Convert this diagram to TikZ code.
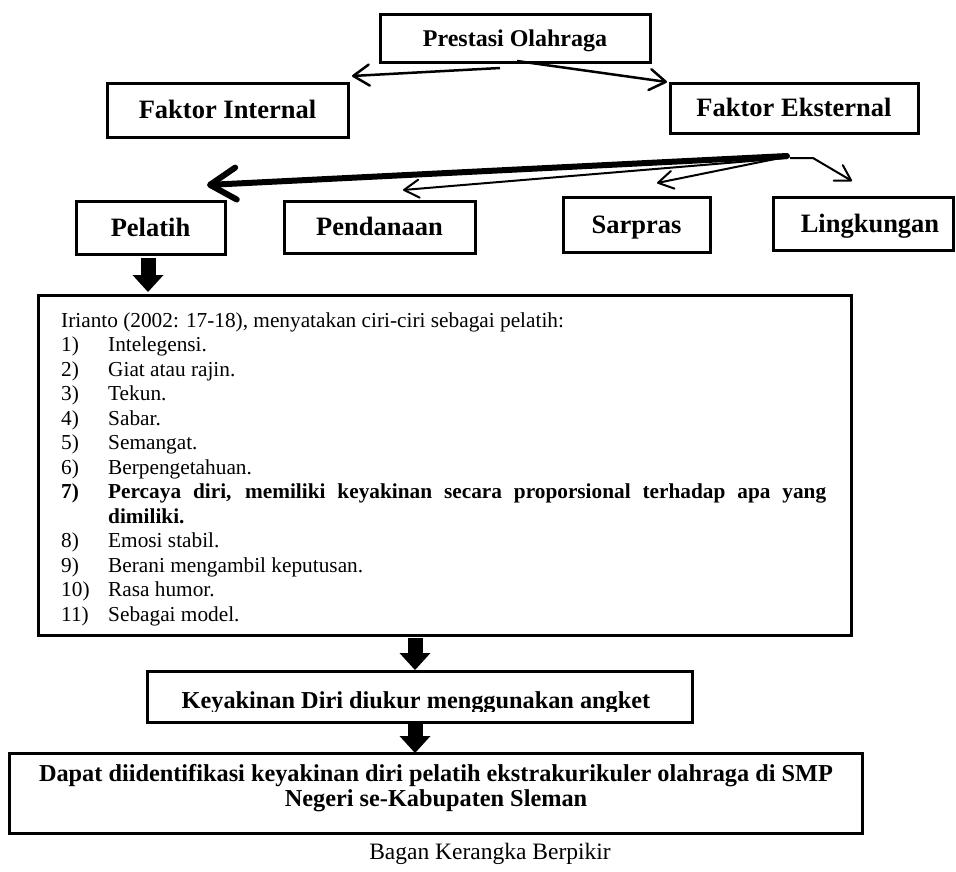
\documentclass[tikz,border=0pt]{standalone}
\usepackage{fontspec}
\setmainfont{Liberation Serif}
\usetikzlibrary{arrows.meta,calc}
\begin{document}
\begin{tikzpicture}[x=1pt,y=-1pt,
  boxnode/.style={draw, line width=3pt, inner sep=0pt, outer sep=0pt, text height=17.5pt, text depth=0pt,
    font=\fontsize{26.5pt}{30pt}\selectfont\bfseries},
  bigbox/.style={draw, line width=3pt, inner sep=0pt, outer sep=0pt},
  lbl/.style={inner sep=0pt, anchor=base west, font=\fontsize{21.3pt}{24.5pt}\selectfont},
  lblb/.style={lbl, font=\fontsize{21.3pt}{24.5pt}\selectfont\bfseries},
  ctext/.style={anchor=base, inner sep=0pt, font=\fontsize{24.3pt}{28pt}\selectfont\bfseries},
  thinarr/.style={line width=2pt, -{Straight Barb[length=15pt,width=18pt,round]}},
  midarr/.style={line width=2.5pt, -{Straight Barb[length=16pt,width=21pt,round]}},
  thickarr/.style={line width=6pt, line cap=round, -{Straight Barb[length=26pt,width=32pt,round]}},
  blockarr/.style={line width=15pt, -{Triangle[length=17pt,width=31pt,line width=0pt]}},
]
\fill[white] (0,0) rectangle (956,871);
\useasboundingbox (0,0) rectangle (956,871);

% top boxes
\node[boxnode, minimum width=270pt, minimum height=48pt, text height=16pt,
      font=\fontsize{24pt}{28pt}\selectfont\bfseries] (prest) at (515,38) {Prestasi Olahraga};
\node[boxnode, minimum width=241pt, minimum height=54pt] (int) at (227.5,110) {Faktor Internal};
\node[boxnode, minimum width=248pt, minimum height=50pt] (eks) at (794,108) {Faktor Eksternal};

% second row
\node[boxnode, minimum width=149pt, minimum height=53pt] (pel) at (150.5,227.5) {Pelatih};
\node[boxnode, minimum width=191pt, minimum height=52pt] (pend) at (379.5,227) {Pendanaan};
\node[boxnode, minimum width=147pt, minimum height=55pt] (sar) at (636.5,224.5) {Sarpras};
\node[boxnode, minimum width=180pt, minimum height=53pt] (ling) at (863,223.5) {\hspace*{14pt}Lingkungan};

% arrows from Prestasi
\draw[midarr] ($(prest.south)+(-15,6)$) -- ($(int.north east)+(4,-7)$);
\draw[midarr] ($(prest.south)+(2,-1)$) -- ($(eks.north west)+(-3,-1)$);

% arrows from Faktor Eksternal
\draw[thinarr] ($(eks.south)+(-7,25)$) -- ($(pend.north)+(23.5,-11)$);
\draw[thinarr] ($(eks.south)+(-9,24)$) -- ($(sar.north)+(20.5,-14)$);
\draw[thinarr] ($(eks.south)+(-4,25)$) -- ($(eks.south)+(19,25)$) -- ($(ling.north)+(-11,-16)$);
\draw[thickarr] ($(eks.south)+(-7,23)$) -- ($(pel.north east)+(-18,-16)$);

% list box
\node[bigbox, minimum width=813pt, minimum height=340pt] (lst) at (444.5,465) {};
\node[lbl] (intro) at (61,327) {Irianto (2002: 17-18), menyatakan ciri-ciri sebagai pelatih:};
\foreach \k/\nm/\tx in {1/1)/Intelegensi., 2/2)/Giat atau rajin., 3/3)/Tekun., 4/4)/Sabar.,
    5/5)/Semangat., 6/6)/Berpengetahuan., 9/8)/Emosi stabil., 10/9)/Berani mengambil keputusan.,
    11/10)/Rasa humor., 12/11)/Sebagai model.} {
  \node[lbl] (num\k) at (61,327+24.5*\k) {\nm};
  \node[lbl] (item\k) at (108,327+24.5*\k) {\tx};
}
\node[lblb] (num7) at (61,498.5) {7)};
\node[lblb] (item7) at (108,498.5) {\makebox[718pt][s]{Percaya diri, memiliki keyakinan secara proporsional terhadap apa yang}};
\node[lblb] (item7b) at (108,523) {dimiliki.};

% Keyakinan box
\node[bigbox, minimum width=545pt, minimum height=51pt] (key) at (419.5,696.5) {};
\begin{scope}
  \clip (147,660) rectangle (692,711);
  \node[ctext] (keyt) at (416,708) {Keyakinan Diri diukur menggunakan angket};
\end{scope}

% final box
\node[bigbox, minimum width=853pt, minimum height=80pt] (fin) at (435.5,793) {};
\node[ctext] (fin1) at (436,781) {Dapat diidentifikasi keyakinan diri pelatih ekstrakurikuler olahraga di SMP};
\node[ctext] (fin2) at (436,806) {Negeri se-Kabupaten Sleman};

% block arrows
\draw[blockarr] ($(pel.south)+(-2.5,4)$) -- ($(pel.south |- lst.north)+(-2.5,-3)$);
\draw[blockarr] ($(lst.south)+(-29.5,3)$) -- ($(lst.south |- key.north)+(-29.5,-1)$);
\draw[blockarr] ($(key.south)+(-4.5,2)$) -- ($(key.south |- fin.north)+(-4.5,0)$);

% caption
\node[anchor=base, inner sep=0pt, font=\fontsize{23.5pt}{28pt}\selectfont] (cap) at (490,859) {Bagan Kerangka Berpikir};
\end{tikzpicture}
\end{document}
